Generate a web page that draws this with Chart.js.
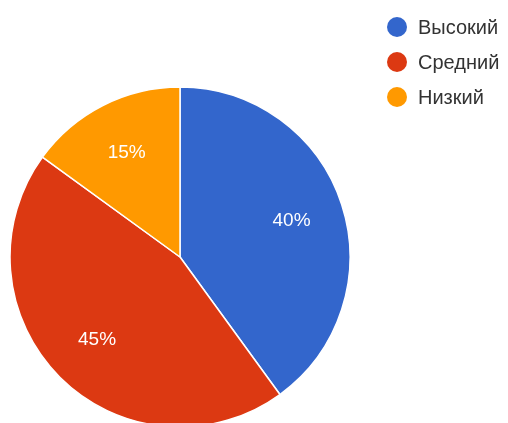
<!DOCTYPE html>
<html>
<head>
<meta charset="utf-8">
<script src="https://cdn.jsdelivr.net/npm/chart.js@4"></script>
<style>
  html, body { margin: 0; padding: 0; background: #fff; overflow: hidden; }
  #chart { display: block; }
</style>
</head>
<body>
<canvas id="chart" width="508" height="423"></canvas>
<script>
const labels = ['Высокий', 'Средний', 'Низкий']
const values = [40, 45, 15]
const sliceText = ['40%', '45%', '15%']
const colors = ['#3366cc', '#dc3912', '#ff9900']

// legend drawn by hand so it can sit at the top right, away from the pie
const sideLegend = {
    id: 'sideLegend',
    afterDraw: chart => {
        const ctx = chart.ctx
        ctx.save()
        ctx.font = '20px "Liberation Sans", Arial, sans-serif'
        ctx.textBaseline = 'middle'
        labels.forEach((label, i) => {
            const y = 27 + i * 35
            ctx.fillStyle = colors[i]
            ctx.beginPath()
            ctx.arc(397, y, 10, 0, Math.PI * 2)
            ctx.fill()
            ctx.fillStyle = '#333'
            ctx.fillText(label, 418, y + 1)
        })
        ctx.restore()
    }
}

const sliceLabels = {
    id: 'sliceLabels',
    afterDatasetsDraw: chart => {
        const ctx = chart.ctx
        const arcs = chart.getDatasetMeta(0).data
        ctx.save()
        ctx.font = '19px "Liberation Sans", Arial, sans-serif'
        ctx.fillStyle = '#fff'
        ctx.textAlign = 'center'
        ctx.textBaseline = 'middle'
        arcs.forEach((arc, i) => {
            const mid = (arc.startAngle + arc.endAngle) / 2
            const r = arc.outerRadius * 0.69
            ctx.fillText(sliceText[i], arc.x + Math.cos(mid) * r, arc.y + Math.sin(mid) * r)
        })
        ctx.restore()
    }
}

const myChart = new Chart(document.getElementById('chart'), {
    type: 'pie',
    data: {
        labels: labels,
        datasets: [{
            data: values,
            backgroundColor: colors,
            borderColor: '#fff',
            borderWidth: 1.5
        }]
    },
    options: {
        responsive: false,
        animation: false,
        radius: 170,
        layout: { padding: { left: 10, top: 91, right: 158, bottom: 0 } },
        plugins: {
            legend: { display: false },
            tooltip: { enabled: false }
        }
    },
    plugins: [sideLegend, sliceLabels]
})
</script>
</body>
</html>
